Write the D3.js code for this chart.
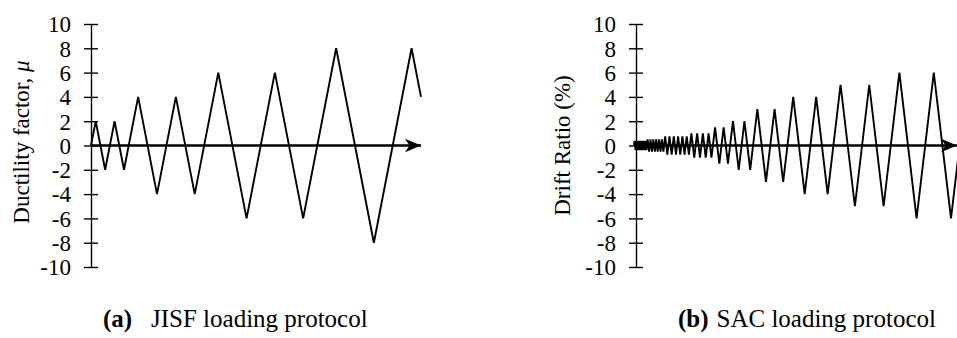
<!DOCTYPE html>
<html>
<head>
<meta charset="utf-8">
<script src="https://cdn.jsdelivr.net/npm/d3@7"></script>
<style>
  html, body { margin: 0; padding: 0; background: #fff; overflow: hidden; }
  svg { display: block; }
  text { font-family: "Liberation Serif", "Times New Roman", serif; fill: #000; }
</style>
</head>
<body>
<svg id="chart" width="957" height="338"></svg>
<script>
// ---- Data ----
// JISF protocol: peak ductility factors and the loading step at each peak
const jisfSteps = [0, 2, 6, 10, 14, 20, 28, 36, 44, 54, 66, 78, 90, 104, 120, 136, 140];
const jisfPeaks = [0, 2, -2, 2, -2, 4, -4, 4, -4, 6, -6, 6, -6, 8, -8, 8, 4];

// SAC protocol: drift ratio amplitude (%) and number of cycles at each amplitude
const sacAmplitudes = [0.375, 0.5, 0.75, 1, 1.5, 2, 3, 4, 5, 6, 7];
const sacCycles     = [6, 6, 6, 4, 2, 2, 2, 2, 2, 2, 1];

const yTicks = [-10, -8, -6, -4, -2, 0, 2, 4, 6, 8, 10];

// ---- Build SAC peak history (loading at constant rate: step = accumulated drift) ----
const sacPoints = [{ t: 0, v: 0 }];
{
  let t = 0, prev = 0;
  sacAmplitudes.forEach((a, i) => {
    for (let c = 0; c < sacCycles[i]; c++) {
      for (const v of [a, -a]) {
        t += Math.abs(v - prev);
        sacPoints.push({ t, v });
        prev = v;
      }
    }
  });
}
const jisfPoints = jisfSteps.map((t, i) => ({ t, v: jisfPeaks[i] }));

// ---- Drawing ----
const svg = d3.select("#chart");

const defs = svg.append("defs");
defs.append("marker")
  .attr("id", "arrow")
  .attr("markerUnits", "userSpaceOnUse")
  .attr("viewBox", "-16 -8 17 16")
  .attr("refX", 0).attr("refY", 0)
  .attr("markerWidth", 17).attr("markerHeight", 16)
  .attr("orient", "auto")
  .append("path")
  .attr("d", "M0,0 L-16,-6.8 L-11.5,0 L-16,6.8 Z")
  .attr("fill", "#000");

const y = d3.scaleLinear().domain([-10, 10]).range([267, 24]);

function panel(cfg) {
  const g = svg.append("g");
  const x = d3.scaleLinear().domain(cfg.domain).range(cfg.range);

  // data line
  g.append("path")
    .datum(cfg.points)
    .attr("fill", "none")
    .attr("stroke", "#000")
    .attr("stroke-width", 1.9)
    .attr("stroke-linejoin", "miter")
    .attr("d", d3.line().x(d => x(d.t)).y(d => y(d.v)));

  // vertical axis with ticks crossing the axis line
  const axis = g.append("g")
    .attr("transform", `translate(${cfg.axisX},0)`)
    .call(d3.axisLeft(y)
      .tickValues(yTicks)
      .tickSize(7)
      .tickSizeOuter(0)
      .tickFormat(d => String(d)));
  axis.select(".domain").attr("stroke", "#000").attr("stroke-width", 1.4);
  axis.selectAll(".tick line").attr("x1", 7).attr("x2", -7)
    .attr("stroke", "#000").attr("stroke-width", 1.4);
  axis.selectAll(".tick text")
    .attr("x", -20)
    .attr("dy", "0.34em")
    .style("font-family", '"Liberation Serif", "Times New Roman", serif')
    .style("font-size", "23px")
    .attr("fill", "#000");

  // horizontal zero axis with arrow
  g.append("line")
    .attr("x1", cfg.axisX).attr("x2", cfg.arrowTip)
    .attr("y1", y(0)).attr("y2", y(0))
    .attr("stroke", "#000").attr("stroke-width", 2.6)
    .attr("marker-end", "url(#arrow)");

  // axis title
  const title = g.append("text")
    .attr("transform", `translate(${cfg.titleX},${cfg.titleY}) rotate(-90)`)
    .attr("text-anchor", "middle")
    .style("font-size", "23px");
  cfg.title(title);

  // caption
  const cap = g.append("text").attr("y", 327).style("font-size", "25px");
  cap.append("tspan").attr("x", cfg.capX).style("font-weight", "bold").text(cfg.capLabel);
  cap.append("tspan").attr("x", cfg.capTextX).text(cfg.capText);
}

panel({
  points: jisfPoints,
  domain: [0, 140], range: [91, 421],
  axisX: 91, arrowTip: 421,
  titleX: 28.5, titleY: 142,
  title: t => { t.append("tspan").text("Ductility factor, "); t.append("tspan").style("font-style", "italic").text("μ"); },
  capX: 103, capLabel: "(a)", capTextX: 151, capText: "JISF loading protocol"
});

panel({
  points: sacPoints,
  domain: [0, 221], range: [634, 951],
  axisX: 636, arrowTip: 957,
  titleX: 570, titleY: 145.5,
  title: t => t.text("Drift Ratio (%)"),
  capX: 678, capLabel: "(b)", capTextX: 716.5, capText: "SAC loading protocol"
});
</script>
</body>
</html>
